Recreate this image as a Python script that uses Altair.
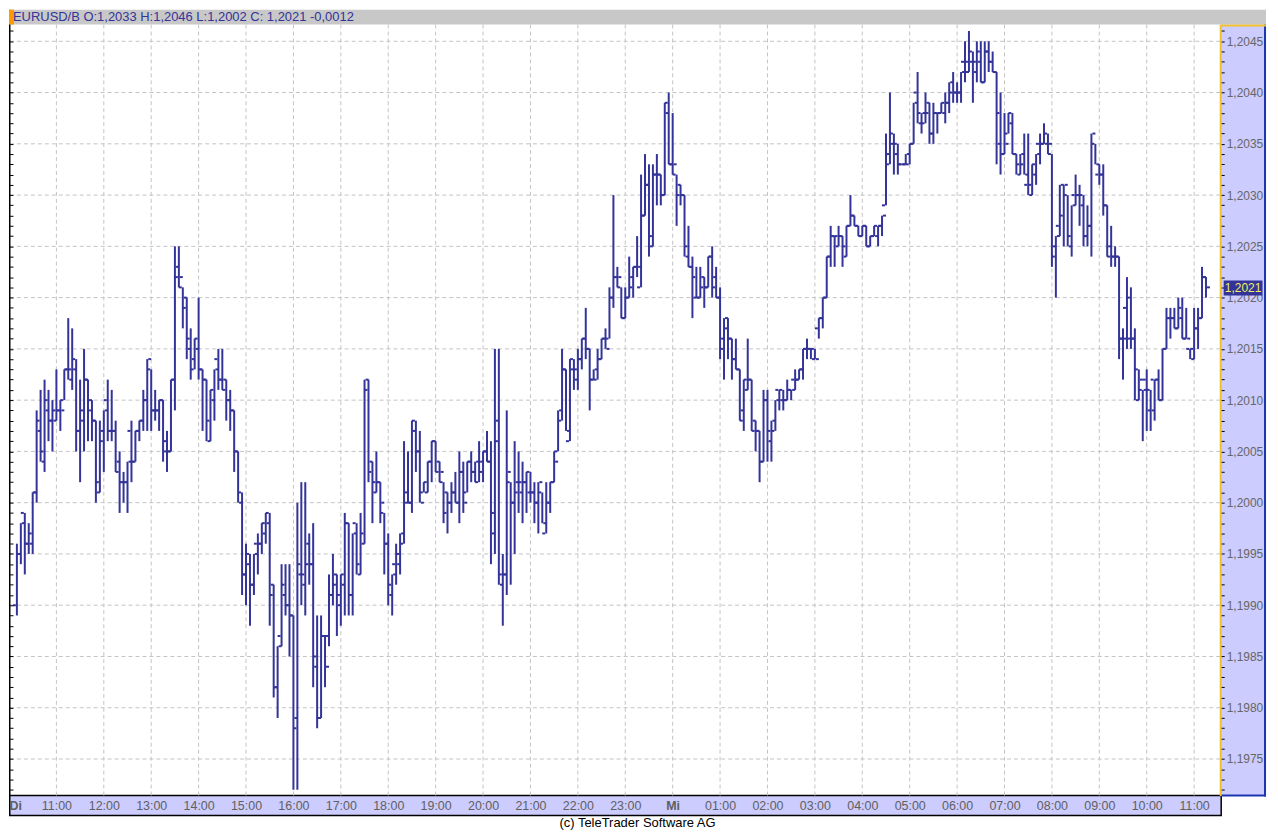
import altair as alt
import pandas as pd

# ---------------- data (EUR/USD 5-minute OHLC bars, in pips above BASE) ----------------
BASE = 1.2000
PIP = 0.0001
START_MIN = 610   # first bar: Di (Tuesday) 10:10, minutes after Tuesday 00:00
STEP_MIN = 5

open_pips = [
    -10, -5, -1, -4, -3, 1, 8, 5, 10, 8,
    9, 9, 10, 13, 13, 14, 7, 9, 12, 9,
    8, 2, 6, 10, 7, 7, 3, 2, 2, 7,
    4, 7, 8, 10, 13, 9, 9, 10, 6, 5,
    12, 22, 21, 19, 16, 13, 16, 13, 12, 8,
    11, 14, 12, 11, 10, 9, 5, 1, -7, -5,
    -8, -4, -4, -2, -1, -9, -18, -13, -8, -10,
    -11, -22, -6, -7, -6, -6, -15, -21, -13, -13,
    -9, -8, -9, -7, -2, -9, -2, -6, -3, 11,
    3, 2, 2, -1, -4, -8, -6, -5, -4, 1,
    0, 8, 5, 1, 2, 4, 6, 3, 2, -1,
    0, 1, 0, 3, 1, 4, 3, 2, 3, 5,
    4, -1, 6, -7, -7, 2, 0, 1, 2, 2,
    3, 1, 0, 1, -3, 0, 2, 5, 8, 13,
    6, 14, 13, 14, 16, 15, 12, 12, 14, 16,
    16, 20, 22, 21, 18, 20, 21, 23, 21, 28,
    31, 26, 32, 32, 30, 39, 33, 32, 30, 30,
    25, 23, 22, 20, 21, 21, 24, 21, 20, 15,
    17, 16, 14, 13, 8, 12, 12, 7, 7, 4,
    10, 7, 7, 11, 11, 10, 11, 12, 12, 13,
    15, 15, 15, 17, 18, 20, 24, 26, 26, 26,
    25, 27, 28, 27, 26, 27, 25, 26, 27, 27,
    29, 33, 36, 35, 33, 33, 33, 35, 40, 38,
    37, 38, 36, 38, 38, 39, 39, 40, 40, 40,
    43, 43, 44, 43, 44, 41, 44, 43, 42, 38,
    34, 36, 38, 34, 33, 33, 31, 31, 33, 35,
    35, 36, 34, 24, 27, 28, 30, 26, 30, 30,
    30, 26, 27, 35, 32, 32, 29, 24, 24, 24,
    16, 19, 20, 16, 13, 11, 12, 11, 12, 12,
    10, 15, 18, 18, 17, 19, 16, 15, 15, 17,
    18, 22,
]
high_pips = [
    -4, -2, -1, -2, 1, 9, 11, 12, 11, 10,
    13, 10, 13, 18, 17, 14, 12, 15, 12, 10,
    8, 8, 9, 12, 11, 8, 5, 3, 4, 8,
    7, 8, 11, 14, 13, 11, 10, 10, 7, 12,
    25, 25, 21, 20, 17, 16, 20, 13, 12, 11,
    13, 15, 15, 12, 11, 9, 5, 1, -4, -5,
    -5, -3, -2, -1, -1, -8, -14, -6, -6, -6,
    -11, 0, 2, 2, -3, -2, -11, -11, -13, -7,
    -5, -7, -7, -1, -2, -3, -2, -1, 12, 12,
    4, 5, 2, -1, -3, -7, -4, -3, 6, 5,
    8, 8, 7, 2, 4, 6, 6, 4, 2, 1,
    2, 3, 5, 4, 4, 5, 4, 6, 5, 7,
    6, 15, 15, -5, 9, 2, 6, 5, 4, 3,
    3, 2, 2, 1, 2, 2, 5, 9, 15, 13,
    14, 14, 15, 16, 19, 15, 13, 15, 16, 17,
    21, 30, 23, 21, 21, 24, 23, 26, 32, 34,
    33, 33, 34, 32, 39, 40, 38, 32, 31, 30,
    27, 24, 23, 23, 22, 24, 25, 23, 21, 18,
    18, 16, 16, 13, 12, 16, 12, 8, 7, 11,
    11, 8, 10, 11, 11, 12, 11, 13, 13, 15,
    16, 15, 15, 18, 20, 24, 27, 26, 27, 26,
    27, 30, 28, 27, 27, 27, 26, 27, 27, 28,
    36, 40, 36, 35, 33, 34, 35, 39, 42, 38,
    40, 39, 39, 38, 39, 40, 41, 42, 41, 42,
    45, 46, 44, 45, 45, 45, 45, 44, 42, 40,
    38, 38, 38, 34, 34, 36, 36, 33, 34, 36,
    37, 36, 34, 26, 31, 31, 30, 29, 32, 31,
    30, 29, 36, 35, 33, 33, 29, 27, 25, 24,
    17, 22, 21, 17, 13, 11, 13, 11, 12, 13,
    15, 19, 19, 19, 20, 20, 19, 15, 19, 19,
    23, 22,
]
low_pips = [
    -11, -6, -7, -5, -5, 0, 4, 3, 6, 5,
    8, 7, 10, 12, 11, 5, 2, 5, 6, 6,
    0, 1, 3, 6, 6, 3, -1, 0, -1, 2,
    4, 6, 7, 7, 7, 8, 7, 4, 3, 5,
    9, 21, 17, 14, 12, 13, 12, 7, 6, 6,
    8, 11, 11, 8, 7, 3, 0, -9, -10, -12,
    -9, -7, -5, -4, -12, -19, -21, -14, -11, -15,
    -28, -28, -10, -11, -8, -18, -22, -21, -18, -14,
    -10, -13, -12, -11, -11, -11, -7, -7, -4, 2,
    -2, 1, -2, -7, -10, -11, -8, -7, -4, 0,
    -1, 3, 0, 1, 1, 2, 3, 2, -2, -3,
    -1, 0, -2, -1, 1, 2, 2, 2, 2, 4,
    -6, -5, -8, -12, -9, -8, -5, -1, -2, -1,
    0, -2, -3, -2, -3, -1, 2, 5, 8, 7,
    6, 11, 11, 13, 14, 9, 12, 12, 14, 15,
    16, 19, 21, 18, 18, 20, 20, 22, 21, 28,
    24, 25, 29, 29, 30, 33, 32, 27, 29, 24,
    23, 18, 20, 20, 19, 21, 20, 20, 14, 12,
    14, 12, 13, 8, 7, 11, 7, 5, 2, 4,
    4, 4, 7, 9, 9, 10, 10, 11, 12, 12,
    14, 14, 14, 16, 17, 20, 23, 23, 25, 23,
    24, 27, 27, 26, 26, 25, 25, 26, 25, 26,
    29, 33, 32, 32, 33, 33, 33, 35, 37, 36,
    37, 35, 35, 36, 38, 37, 38, 39, 39, 39,
    41, 42, 39, 41, 41, 41, 42, 42, 33, 32,
    34, 36, 34, 32, 32, 32, 30, 30, 31, 33,
    35, 34, 23, 20, 26, 25, 25, 24, 29, 27,
    25, 25, 24, 33, 31, 28, 24, 23, 23, 14,
    12, 15, 15, 10, 10, 6, 7, 7, 8, 10,
    10, 15, 16, 17, 17, 16, 16, 14, 14, 15,
    18, 20,
]
close_pips = [
    -5, -2, -4, -4, 1, 7, 4, 9, 8, 8,
    9, 9, 13, 12, 13, 7, 8, 12, 10, 8,
    1, 7, 9, 7, 7, 4, 2, 2, 4, 4,
    7, 8, 10, 14, 9, 9, 10, 5, 5, 12,
    23, 22, 20, 15, 14, 15, 13, 12, 6, 10,
    13, 12, 12, 10, 9, 5, 0, -7, -6, -8,
    -5, -4, -3, -2, -8, -18, -14, -9, -10, -11,
    -21, -7, -8, -4, -6, -16, -21, -13, -16, -9,
    -7, -10, -8, -2, -9, -3, -7, -4, 12, 4,
    1, 2, 0, -4, -9, -7, -6, -3, 0, 0,
    7, 5, 0, 1, 4, 6, 4, 3, 1, 0,
    1, 0, 3, 0, 4, 3, 4, 4, 5, 4,
    -3, 8, -8, -7, 3, 0, 2, 1, 2, 1,
    1, 0, 2, -2, 0, 2, 4, 9, 13, 7,
    13, 12, 14, 16, 15, 12, 13, 14, 16, 15,
    20, 22, 22, 18, 20, 22, 23, 23, 28, 31,
    25, 32, 32, 30, 38, 33, 33, 31, 30, 24,
    23, 20, 20, 22, 21, 24, 22, 20, 16, 18,
    16, 14, 13, 9, 11, 12, 8, 7, 4, 10,
    6, 8, 10, 10, 10, 11, 11, 12, 13, 15,
    15, 14, 14, 18, 20, 24, 26, 25, 26, 24,
    27, 28, 27, 26, 27, 25, 26, 26, 27, 28,
    34, 35, 34, 33, 33, 34, 35, 39, 37, 38,
    39, 36, 38, 38, 38, 39, 41, 40, 40, 42,
    42, 43, 42, 43, 41, 44, 43, 42, 35, 34,
    35, 37, 34, 32, 34, 32, 30, 32, 34, 35,
    35, 35, 25, 26, 31, 31, 25, 29, 30, 29,
    26, 27, 36, 33, 32, 29, 25, 24, 24, 16,
    16, 16, 16, 10, 12, 11, 9, 9, 12, 10,
    15, 18, 18, 17, 18, 16, 16, 14, 17, 18,
    22, 21,
]

HEADER = "EURUSD/B O:1,2033 H:1,2046 L:1,2002 C: 1,2021 -0,0012"
FOOTER = "(c) TeleTrader Software AG"
day_ticks = [600, 1440]                              # "Di" (start), "Mi" (midnight)
hour_ticks = [h for h in range(660, 2101, 60) if h != 1440]
grid_hours = list(range(660, 2101, 60))
grid_pips = list(range(-25, 46, 5))
tick_pips = list(range(-28, 47))

# ---------------- styling ----------------
NAVY = "#333399"
LAV = "#ccccff"
GRID = "#c4c4c4"
GOLD = "#f2c12e"
BLUE = "#1a36b0"
LABEL = "#606060"
FONT = "Liberation Sans"
W, H = 1216, 774          # plot area; right price band adds 46 px -> 1262 total
BAND = 44

n = len(close_pips)
df = pd.DataFrame({
    "t": [START_MIN + STEP_MIN * i for i in range(n)],
    "open": [round(BASE + p * PIP, 4) for p in open_pips],
    "high": [round(BASE + p * PIP, 4) for p in high_pips],
    "low": [round(BASE + p * PIP, 4) for p in low_pips],
    "close": [round(BASE + p * PIP, 4) for p in close_pips],
})
grid_levels = [round(BASE + p * PIP, 4) for p in grid_pips]
tick_levels = [round(BASE + p * PIP, 4) for p in tick_pips]
last_close = float(df["close"].iloc[-1])

xs = alt.Scale(domain=[600, 2133], nice=False, zero=False)
ys = alt.Scale(domain=[1.197144, 1.204663], nice=False, zero=False)

hour_expr = ("(floor(datum.value / 60) % 24 < 10 ? '0' : '') + "
             "(floor(datum.value / 60) % 24) + ':00'")
x_axis = alt.Axis(
    orient="bottom", values=hour_ticks, labelExpr=hour_expr, labelFlush=False,
    labelOverlap=False, domain=False, ticks=False, grid=False, labelPadding=4,
    labelColor=LABEL, labelFont=FONT, labelFontSize=12.5, title=None, zindex=2,
)
day_axis = alt.Axis(
    orient="bottom", values=day_ticks,
    labelExpr="datum.value == 600 ? 'Di' : 'Mi'", labelFlush=True,
    labelOverlap=False, domain=False, ticks=False, grid=False, labelPadding=4,
    labelColor=LABEL, labelFont=FONT, labelFontSize=12.5, labelFontWeight="bold",
    title=None, zindex=2,
)
price_expr = ("round(datum.value * 10000) % 5 == 0 ? "
              "replace(format(datum.value, '.4f'), '.', ',') : ''")
right_axis = alt.Axis(
    orient="right", values=tick_levels, labelExpr=price_expr, labelOverlap=False,
    tickSize=4, tickColor="black", tickWidth=1, domainColor=GOLD, domainWidth=2,
    grid=False, labelPadding=2, labelColor="#666666", labelFont=FONT, labelFontSize=12,
    title=None, zindex=1,
)
# last-price marker on the right scale: a thick navy tick with the price written on it
last_axis = alt.Axis(
    orient="right", values=[last_close], offset=3, domain=False, grid=False,
    tickSize=39, tickWidth=15, tickColor=NAVY,
    labelExpr="replace(format(datum.value, '.4f'), '.', ',')",
    labelAlign="center", labelPadding=-19.5, labelColor="#f0f060",
    labelFont=FONT, labelFontSize=12, labelOverlap=False, title=None, zindex=3,
)
left_axis = alt.Axis(
    orient="left", values=tick_levels, labels=False, tickSize=4, tickColor="black",
    tickWidth=1, domain=False, grid=False, offset=-4, title=None, zindex=1,
)

one = alt.Data(values=[{"k": 0}])

header_bg = alt.Chart(one).mark_rect(color="#c8c8c8").encode(
    x=alt.value(0), x2=alt.value(W + BAND + 2), y=alt.value(-15), y2=alt.value(0))
header_mark = alt.Chart(one).mark_rect(color="#ff9900").encode(
    x=alt.value(0), x2=alt.value(5), y=alt.value(-15), y2=alt.value(0))
header_text = alt.Chart(alt.Data(values=[{"label": HEADER}])).mark_text(
    align="left", baseline="middle", font=FONT, fontSize=13, color=NAVY
).encode(x=alt.value(4), y=alt.value(-7.5), text="label:N")

right_band = alt.Chart(one).mark_rect(color=LAV).encode(
    x=alt.value(W), x2=alt.value(W + BAND), y=alt.value(0), y2=alt.value(H))
right_border = alt.Chart(one).mark_rule(color=BLUE, strokeWidth=2).encode(
    x=alt.value(W + BAND + 1), y=alt.value(0), y2=alt.value(H + 1))
right_bottom = alt.Chart(one).mark_rule(color=BLUE, strokeWidth=2).encode(
    x=alt.value(W), x2=alt.value(W + BAND + 2), y=alt.value(H))
right_top = alt.Chart(one).mark_rule(color=GOLD, strokeWidth=2).encode(
    x=alt.value(W), x2=alt.value(W + BAND + 2), y=alt.value(1))
bottom_band = alt.Chart(one).mark_rect(color=LAV, stroke="black", strokeWidth=1.5).encode(
    x=alt.value(0.75), x2=alt.value(W + 1), y=alt.value(H), y2=alt.value(H + 20))
left_border = alt.Chart(one).mark_rule(color="black", strokeWidth=1.5).encode(
    x=alt.value(0.75), y=alt.value(0), y2=alt.value(H))

grid_h = alt.Chart(pd.DataFrame({"level": grid_levels})).mark_rule(
    color=GRID, strokeDash=[4, 3], strokeWidth=1
).encode(y=alt.Y("level:Q", scale=ys, axis=left_axis))
grid_v = alt.Chart(pd.DataFrame({"hour": grid_hours})).mark_rule(
    color=GRID, strokeDash=[4, 3], strokeWidth=1
).encode(x=alt.X("hour:Q", scale=xs, axis=day_axis))

bars = alt.Chart(df)
wick = bars.mark_rule(color=NAVY, strokeWidth=2).encode(
    x=alt.X("t:Q", scale=xs, axis=x_axis),
    y=alt.Y("low:Q", scale=ys, axis=right_axis),
    y2="high:Q",
)
open_tick = bars.mark_tick(color=NAVY, orient="horizontal", size=3, thickness=2,
                           xOffset=-2.5, opacity=1).encode(
    x=alt.X("t:Q", scale=xs, axis=None), y=alt.Y("open:Q", scale=ys, axis=None))
close_tick = bars.mark_tick(color=NAVY, orient="horizontal", size=3, thickness=2,
                            xOffset=2.5, opacity=1).encode(
    x=alt.X("t:Q", scale=xs, axis=None), y=alt.Y("close:Q", scale=ys, axis=None))

last_marker = alt.Chart(df.tail(1)).mark_point(opacity=0).encode(
    x=alt.value(W + 22), y=alt.Y("close:Q", scale=ys, axis=last_axis))

footer = alt.Chart(alt.Data(values=[{"label": FOOTER}])).mark_text(
    align="center", baseline="middle", font=FONT, fontSize=13, color="black"
).encode(x=alt.value(631), y=alt.value(H + 28), text="label:N")

chart = alt.layer(
    header_bg, header_mark, header_text,
    right_band, bottom_band,
    grid_h, grid_v,
    wick, open_tick, close_tick,
    left_border, right_border, right_bottom, right_top,
    last_marker, footer,
).resolve_axis(x="independent", y="independent").properties(
    width=W, height=H, padding=0
).configure_view(stroke=None)

chart.save("out.html", embed_options={"renderer": "svg", "actions": False})
